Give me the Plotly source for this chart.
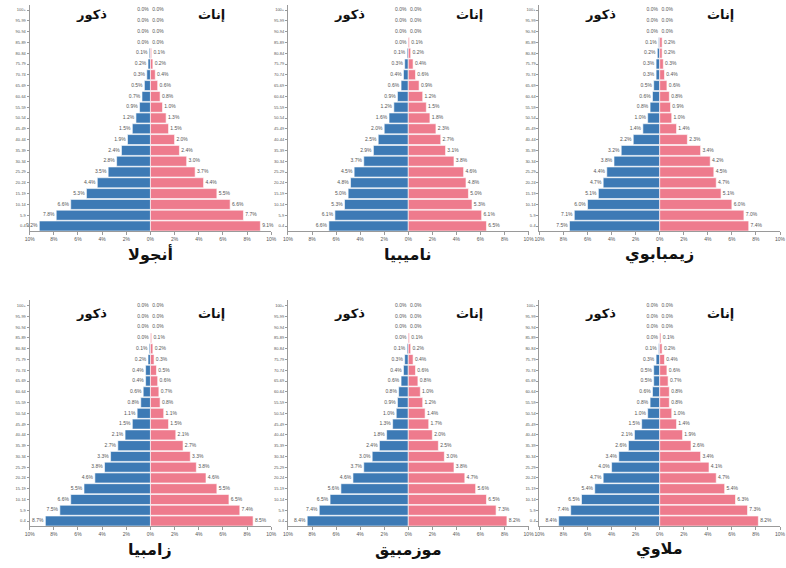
import plotly.graph_objects as go

# Age groups, youngest first (drawn bottom to top)
age_groups = ["0-4", "5-9", "10-14", "15-19", "20-24", "25-29", "30-34", "35-39",
              "40-44", "45-49", "50-54", "55-59", "60-64", "65-69", "70-74",
              "75-79", "80-84", "85-89", "90-94", "95-99", "100+"]

# Share of total population (%) by age group
angola_male = [9.2, 7.8, 6.6, 5.3, 4.4, 3.5, 2.8, 2.4, 1.9, 1.5, 1.2, 0.9, 0.7, 0.5, 0.3, 0.2, 0.1, 0.0, 0.0, 0.0, 0.0]
angola_female = [9.1, 7.7, 6.6, 5.5, 4.4, 3.7, 3.0, 2.4, 2.0, 1.5, 1.3, 1.0, 0.8, 0.6, 0.4, 0.2, 0.1, 0.0, 0.0, 0.0, 0.0]

namibia_male = [6.6, 6.1, 5.3, 5.0, 4.8, 4.5, 3.7, 2.9, 2.5, 2.0, 1.6, 1.2, 0.9, 0.6, 0.4, 0.3, 0.1, 0.0, 0.0, 0.0, 0.0]
namibia_female = [6.5, 6.1, 5.3, 5.0, 4.8, 4.6, 3.8, 3.1, 2.7, 2.3, 1.8, 1.5, 1.2, 0.9, 0.6, 0.4, 0.2, 0.1, 0.0, 0.0, 0.0]

zimbabwe_male = [7.5, 7.1, 6.0, 5.1, 4.7, 4.4, 3.8, 3.2, 2.2, 1.4, 1.0, 0.8, 0.6, 0.5, 0.3, 0.3, 0.2, 0.1, 0.0, 0.0, 0.0]
zimbabwe_female = [7.4, 7.0, 6.0, 5.1, 4.7, 4.5, 4.2, 3.4, 2.3, 1.4, 1.0, 0.9, 0.8, 0.6, 0.4, 0.3, 0.2, 0.2, 0.0, 0.0, 0.0]

zambia_male = [8.7, 7.5, 6.6, 5.5, 4.6, 3.8, 3.3, 2.7, 2.1, 1.5, 1.1, 0.8, 0.6, 0.4, 0.4, 0.2, 0.1, 0.0, 0.0, 0.0, 0.0]
zambia_female = [8.5, 7.4, 6.5, 5.5, 4.6, 3.8, 3.3, 2.7, 2.1, 1.5, 1.1, 0.8, 0.7, 0.6, 0.5, 0.3, 0.2, 0.1, 0.0, 0.0, 0.0]

mozambique_male = [8.4, 7.4, 6.5, 5.6, 4.6, 3.7, 3.0, 2.4, 1.8, 1.3, 1.0, 0.9, 0.8, 0.6, 0.4, 0.3, 0.1, 0.0, 0.0, 0.0, 0.0]
mozambique_female = [8.2, 7.3, 6.5, 5.6, 4.7, 3.8, 3.0, 2.5, 2.0, 1.7, 1.4, 1.2, 1.0, 0.8, 0.6, 0.4, 0.2, 0.1, 0.0, 0.0, 0.0]

malawi_male = [8.4, 7.4, 6.5, 5.4, 4.7, 4.0, 3.4, 2.6, 2.1, 1.5, 1.0, 0.8, 0.6, 0.5, 0.5, 0.3, 0.1, 0.0, 0.0, 0.0, 0.0]
malawi_female = [8.2, 7.3, 6.3, 5.4, 4.7, 4.1, 3.4, 2.6, 1.9, 1.4, 1.0, 0.8, 0.8, 0.7, 0.6, 0.4, 0.2, 0.1, 0.0, 0.0, 0.0]

country_names = ["أنجولا", "ناميبيا", "زيمبابوي", "زامبيا", "موزمبيق", "ملاوي"]
male_series = [angola_male, namibia_male, zimbabwe_male, zambia_male, mozambique_male, malawi_male]
female_series = [angola_female, namibia_female, zimbabwe_female, zambia_female, mozambique_female, malawi_female]

x_tick_vals = [-10, -8, -6, -4, -2, 0, 2, 4, 6, 8, 10]
x_tick_text = ["10%", "8%", "6%", "4%", "2%", "0%", "2%", "4%", "6%", "8%", "10%"]

male_label = "ذكور"
female_label = "إناث"

W, H = 786, 568
BLUE = "#3d7ab5"
PINK = "#ee7b8d"
AXIS_GREY = "#9a9a9a"
TEXT_GREY = "#555555"
ARABIC_FONT = "DejaVu Sans, Noto Sans, sans-serif"

# Panel geometry in pixels
col_px = [(25, 270), (287, 531), (542, 786)]
row_px = [(4.6, 231.4), (300.3, 526.4)]

fig = go.Figure()
layout = dict(
    width=W, height=H,
    margin=dict(l=0, r=0, t=0, b=0),
    paper_bgcolor="white", plot_bgcolor="white",
    showlegend=False,
    barmode="relative",
    bargap=0.07,
    annotations=[],
)

for i, name in enumerate(country_names):
    r, c = divmod(i, 3)
    n = i + 1
    xa = "x" if n == 1 else f"x{n}"
    ya = "y" if n == 1 else f"y{n}"
    x0, x1 = col_px[c]
    y0, y1 = row_px[r]
    males = male_series[i]
    females = female_series[i]

    fig.add_trace(go.Bar(
        y=age_groups, x=[-v for v in males], orientation="h",
        marker=dict(color=BLUE, line=dict(color="white", width=0.6)),
        xaxis=xa, yaxis=ya, hoverinfo="skip",
    ))
    fig.add_trace(go.Bar(
        y=age_groups, x=females, orientation="h",
        marker=dict(color=PINK, line=dict(color="white", width=0.6)),
        xaxis=xa, yaxis=ya, hoverinfo="skip",
    ))
    # value labels beside each bar
    fig.add_trace(go.Scatter(
        y=age_groups, x=[-v - 0.15 for v in males], mode="text",
        text=[f"{v:.1f}%" for v in males], textposition="middle left",
        textfont=dict(size=5, color=TEXT_GREY, family="Liberation Sans, Arial"),
        xaxis=xa, yaxis=ya, hoverinfo="skip", cliponaxis=False,
    ))
    fig.add_trace(go.Scatter(
        y=age_groups, x=[v + 0.15 for v in females], mode="text",
        text=[f"{v:.1f}%" for v in females], textposition="middle right",
        textfont=dict(size=5, color=TEXT_GREY, family="Liberation Sans, Arial"),
        xaxis=xa, yaxis=ya, hoverinfo="skip", cliponaxis=False,
    ))

    xkey = "xaxis" if n == 1 else f"xaxis{n}"
    ykey = "yaxis" if n == 1 else f"yaxis{n}"
    layout[xkey] = dict(
        domain=[x0 / W, x1 / W], anchor=ya, range=[-10, 10],
        tickvals=x_tick_vals, ticktext=x_tick_text,
        tickfont=dict(size=5, color=TEXT_GREY, family="Liberation Sans, Arial"),
        showgrid=False, zeroline=False, showline=True, linecolor=AXIS_GREY, linewidth=1,
        ticks="outside", ticklen=3, tickcolor=AXIS_GREY, fixedrange=True,
    )
    layout[ykey] = dict(
        domain=[1 - y1 / H, 1 - y0 / H], anchor=xa,
        type="category", categoryorder="array", categoryarray=age_groups,
        range=[-0.5, len(age_groups) - 0.5],
        tickfont=dict(size=4, color=TEXT_GREY, family="Liberation Sans, Arial"),
        showgrid=False, zeroline=False, showline=True, linecolor=AXIS_GREY, linewidth=1,
        ticks="outside", ticklen=2, tickcolor=AXIS_GREY, fixedrange=True,
    )

    zero_px = (x0 + x1) / 2
    head_y = y0 + (10 if r == 0 else 13)
    layout["annotations"].append(dict(
        text=f"<b>{male_label}</b>", x=(zero_px - 60) / W, y=1 - head_y / H,
        xref="paper", yref="paper", showarrow=False, xanchor="center", yanchor="middle",
        font=dict(size=13, color="#111111", family=ARABIC_FONT),
    ))
    layout["annotations"].append(dict(
        text=f"<b>{female_label}</b>", x=(zero_px + 62) / W, y=1 - head_y / H,
        xref="paper", yref="paper", showarrow=False, xanchor="center", yanchor="middle",
        font=dict(size=13, color="#111111", family=ARABIC_FONT),
    ))
    layout["annotations"].append(dict(
        text=f"<b>{name}</b>", x=zero_px / W, y=1 - (y1 + 23) / H,
        xref="paper", yref="paper", showarrow=False, xanchor="center", yanchor="middle",
        font=dict(size=16, color="#111111", family=ARABIC_FONT),
    ))

fig.update_layout(**layout)
fig.write_html("out.html")
